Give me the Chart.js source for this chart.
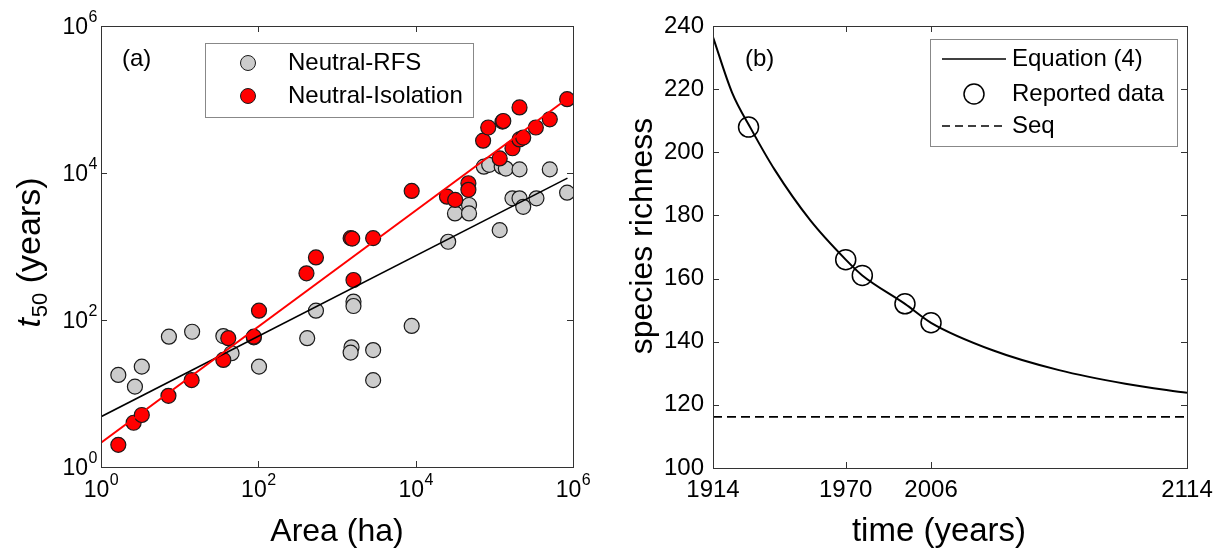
<!DOCTYPE html>
<html>
<head>
<meta charset="utf-8">
<script src="https://cdn.jsdelivr.net/npm/chart.js@4.4.1/dist/chart.umd.min.js"></script>
<style>
  html, body { margin: 0; padding: 0; background: #fff; }
  #wrap { position: relative; width: 1223px; height: 548px; background: #fff; }
  canvas { position: absolute; top: 0; }
  #chart-a { left: 0; }
  #chart-b { left: 610px; }
</style>
</head>
<body>
<div id="wrap">
  <canvas id="chart-a" width="610" height="548"></canvas>
  <canvas id="chart-b" width="613" height="548"></canvas>
</div>
<script>
const FONT = '"Liberation Sans", Arial, sans-serif'

// ── Panel (a): t50 vs area ───────────────────────────────────────────────────

const rfsArea = [1.66, 2.7, 3.3, 7.3, 14.4, 35.9, 45.7, 87.6, 102, 418, 540, 1620, 1620, 1530, 1490, 2880, 2880, 8900,
    25900, 31600, 47700, 47700, 73600, 86000, 117000, 124000, 140000, 170000, 209000, 209000, 233000, 343000, 507000, 842000]
const rfsT50 = [17.9, 12.4, 23.2, 59.3, 69.2, 60.5, 35.3, 58, 23.2, 56.6, 134, 178, 155, 42.5, 36, 39, 15.2, 83,
    1160, 2820, 3670, 2820, 12200, 12900, 1670, 12200, 11500, 4520, 4520, 11200, 3470, 4520, 11200, 5400]

const isoArea = [1.66, 2.6, 3.3, 7.2, 14.2, 35.9, 41.5, 87.6, 102, 409, 540, 1620, 1490, 1560, 2880, 8900,
    25000, 31800, 46800, 46800, 72000, 83600, 117000, 127000, 130000, 170000, 209000, 233000, 209000, 337000, 507000, 842000]
const isoT50 = [2.0, 4.0, 5.1, 9.3, 15.2, 28.6, 56.6, 59.3, 134, 432, 710, 350, 1300, 1280, 1300, 5700,
    4760, 4300, 7250, 5900, 27500, 41600, 15800, 50000, 51000, 21700, 28600, 30400, 78000, 41600, 53700, 101000]

const rfsFitArea = [1, 850000]
const rfsFitT50 = [4.83, 8510]
const isoFitArea = [1, 750000]
const isoFitT50 = [2.14, 93300]

const areaTickExp = [0, 2, 4, 6]
const t50TickExp = [0, 2, 4, 6]
const legendA = ['Neutral-RFS', 'Neutral-Isolation']

// ── Panel (b): species richness over time ────────────────────────────────────

const curveYear = [1914, 1922, 1930, 1940, 1955, 1970, 1977, 1995, 2006, 2032, 2060, 2088, 2114]
const curveRichness = [236.5, 219, 207.5, 194.5, 178.5, 166, 161, 152, 146, 137.3, 131, 126.7, 123.8]
const surveyYear = [1929, 1970, 1977, 1995, 2006]
const surveyRichness = [208, 166, 161, 152, 146]
const seqYear = [1914, 2114]
const seqRichness = [116.2, 116.2]
const yearTicks = [1914, 1970, 2006, 2114]
const richnessTicks = [100, 120, 140, 160, 180, 200, 220, 240]
const legendB = ['Equation (4)', 'Reported data', 'Seq']

const pts = (xs, ys) => xs.map((x, i) => ({ x, y: ys[i] }))


// ── Drawing helpers ──────────────────────────────────────────────────────────

function txt(ctx, s, x, y, font, align = 'left', base = 'alphabetic') {
    ctx.font = font
    ctx.textAlign = align
    ctx.textBaseline = base
    ctx.fillStyle = '#000'
    ctx.fillText(s, x, y)
}

function frame(chart, xTicks, yTicks) {
    const { ctx, chartArea: a, scales } = chart
    const L = 6
    ctx.save()
    ctx.strokeStyle = '#333'
    ctx.lineWidth = 1
    ctx.beginPath()
    xTicks.forEach(v => {
        const p = Math.round(scales.x.getPixelForValue(v)) + 0.5
        ctx.moveTo(p, a.bottom); ctx.lineTo(p, a.bottom - L)
        ctx.moveTo(p, a.top); ctx.lineTo(p, a.top + L)
    })
    yTicks.forEach(v => {
        const p = Math.round(scales.y.getPixelForValue(v)) + 0.5
        ctx.moveTo(a.left, p); ctx.lineTo(a.left + L, p)
        ctx.moveTo(a.right, p); ctx.lineTo(a.right - L, p)
    })
    ctx.stroke()
    ctx.strokeRect(Math.round(a.left) + 0.5, Math.round(a.top) + 0.5,
        Math.round(a.right - a.left), Math.round(a.bottom - a.top))
    ctx.restore()
}

function pow10(ctx, e, x, y, align) {
    const big = `23px ${FONT}`, small = `16px ${FONT}`
    ctx.font = big
    const w1 = ctx.measureText('10').width
    ctx.font = small
    const w2 = ctx.measureText(String(e)).width
    let x0 = align === 'center' ? x - (w1 + w2) / 2 : x - w1 - w2
    txt(ctx, '10', x0, y, big)
    txt(ctx, String(e), x0 + w1 + 0.5, y - 12, small)
}

function legendBox(ctx, x, y, w, h) {
    ctx.save()
    ctx.fillStyle = '#fff'
    ctx.fillRect(x, y, w, h)
    ctx.strokeStyle = '#888'
    ctx.lineWidth = 1
    ctx.strokeRect(x + 0.5, y + 0.5, w, h)
    ctx.restore()
}

function circle(ctx, x, y, r, fill, stroke, lw) {
    ctx.beginPath()
    ctx.arc(x, y, r, 0, Math.PI * 2)
    if (fill) { ctx.fillStyle = fill; ctx.fill() }
    ctx.strokeStyle = stroke
    ctx.lineWidth = lw
    ctx.stroke()
}


// ── Decorations ──────────────────────────────────────────────────────────────

const decorA = {
    id: 'decorA',
    afterDraw(chart) {
        const { ctx, chartArea: a, scales } = chart
        frame(chart, areaTickExp.map(e => 10 ** e), t50TickExp.map(e => 10 ** e))

        areaTickExp.forEach(e => pow10(ctx, e, scales.x.getPixelForValue(10 ** e), 497, 'center'))
        t50TickExp.forEach(e => pow10(ctx, e, 97, scales.y.getPixelForValue(10 ** e) + 8, 'right'))

        txt(ctx, 'Area (ha)', (a.left + a.right) / 2, 541, `32px ${FONT}`, 'center')

        // y title: italic t with subscript 50
        ctx.save()
        ctx.translate(40, 253)
        ctx.rotate(-Math.PI / 2)
        const fT = `italic 34px ${FONT}`, fS = `22px ${FONT}`, fR = `34px ${FONT}`
        ctx.font = fT; const wT = ctx.measureText('t').width
        ctx.font = fS; const wS = ctx.measureText('50').width
        ctx.font = fR; const wR = ctx.measureText(' (years)').width
        let x0 = -(wT + wS + wR) / 2
        txt(ctx, 't', x0, 0, fT)
        txt(ctx, '50', x0 + wT + 1, 7, fS)
        txt(ctx, ' (years)', x0 + wT + wS + 1, 0, fR)
        ctx.restore()

        txt(ctx, '(a)', 122, 66, `24px ${FONT}`)

        // legend
        const ds = chart.data.datasets
        legendBox(ctx, 205, 43, 268, 74)
        ;[ds[3], ds[2]].forEach((d, i) => {
            const y = 63 + i * 33
            circle(ctx, 248, y, 7.5, d.backgroundColor, d.borderColor, 1)
            txt(ctx, legendA[i], 288, y, `24px ${FONT}`, 'left', 'middle')
        })
    }
}

const decorB = {
    id: 'decorB',
    afterDraw(chart) {
        const { ctx, chartArea: a, scales } = chart
        frame(chart, yearTicks, richnessTicks)

        yearTicks.forEach(v => txt(ctx, String(v), scales.x.getPixelForValue(v), 497, `24px ${FONT}`, 'center'))
        richnessTicks.forEach(v => txt(ctx, String(v), 94, scales.y.getPixelForValue(v), `24px ${FONT}`, 'right', 'middle'))

        txt(ctx, 'time (years)', (a.left + a.right) / 2 - 11, 541, `33px ${FONT}`, 'center')

        ctx.save()
        ctx.translate(33, 236)
        ctx.rotate(-Math.PI / 2)
        txt(ctx, 'species richness', 0, 0, `32px ${FONT}`, 'center', 'middle')
        ctx.restore()

        txt(ctx, '(b)', 135, 66, `24px ${FONT}`)

        // legend
        legendBox(ctx, 320, 39, 247, 107)
        ctx.save()
        ctx.strokeStyle = '#000'
        ctx.lineWidth = 1.3
        ctx.beginPath(); ctx.moveTo(332, 59); ctx.lineTo(396, 59); ctx.stroke()
        circle(ctx, 364, 94, 10, null, '#000', 1.5)
        ctx.lineWidth = 1.3
        ctx.setLineDash([8, 5])
        ctx.beginPath(); ctx.moveTo(332, 126); ctx.lineTo(396, 126); ctx.stroke()
        ctx.restore()
        legendB.forEach((s, i) => txt(ctx, s, 402, [59, 94, 126][i], `24px ${FONT}`, 'left', 'middle'))
    }
}


// ── Charts ───────────────────────────────────────────────────────────────────

const hidden = { display: false }

function axis(type, min, max, size, isX) {
    return {
        type, min, max,
        position: isX ? 'bottom' : 'left',
        ticks: hidden,
        grid: hidden,
        border: hidden,
        afterFit: s => { if (isX) s.height = size; else s.width = size }
    }
}

const lineSet = (data, color, width, extra = {}) => ({
    data, showLine: true, borderColor: color, borderWidth: width,
    pointRadius: 0, fill: false, ...extra
})

new Chart(document.getElementById('chart-a'), {
    type: 'scatter',
    data: {
        datasets: [
            lineSet(pts(isoFitArea, isoFitT50), '#ff0000', 2, { order: 0 }),
            lineSet(pts(rfsFitArea, rfsFitT50), '#000000', 1.6, { order: 1 }),
            {
                label: 'Neutral-Isolation', data: pts(isoArea, isoT50), order: 2,
                backgroundColor: '#ff0000', borderColor: '#1a1a1a', borderWidth: 1.2, pointRadius: 7.5
            },
            {
                label: 'Neutral-RFS', data: pts(rfsArea, rfsT50), order: 3,
                backgroundColor: '#cccccc', borderColor: '#1a1a1a', borderWidth: 1.2, pointRadius: 7.5
            },
        ]
    },
    options: {
        responsive: false,
        animation: false,
        layout: { padding: { top: 26, right: 37, bottom: 0, left: 0 } },
        plugins: { legend: hidden, tooltip: { enabled: false } },
        scales: {
            x: axis('logarithmic', 1, 1e6, 81, true),
            y: axis('logarithmic', 1, 1e6, 101, false),
        }
    },
    plugins: [decorA]
})

new Chart(document.getElementById('chart-b'), {
    type: 'scatter',
    data: {
        datasets: [
            {
                label: 'Reported data', data: pts(surveyYear, surveyRichness), order: 0,
                backgroundColor: 'rgba(0,0,0,0)', borderColor: '#000', borderWidth: 1.5, pointRadius: 10
            },
            lineSet(pts(curveYear, curveRichness), '#000', 2, { order: 1, cubicInterpolationMode: 'monotone' }),
            lineSet(pts(seqYear, seqRichness), '#000', 1.6, { order: 2, borderDash: [9, 5] }),
        ]
    },
    options: {
        responsive: false,
        animation: false,
        layout: { padding: { top: 26, right: 36, bottom: 0, left: 0 } },
        plugins: { legend: hidden, tooltip: { enabled: false } },
        scales: {
            x: axis('linear', 1914, 2114, 80, true),
            y: axis('linear', 100, 240, 103, false),
        }
    },
    plugins: [decorB]
})
</script>
</body>
</html>
